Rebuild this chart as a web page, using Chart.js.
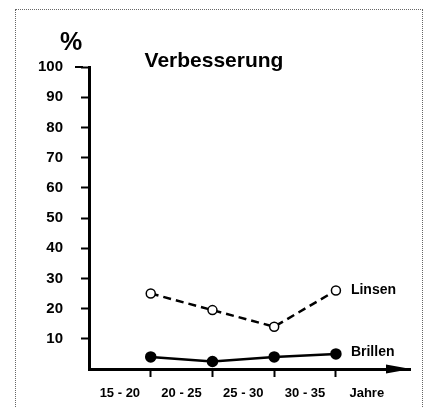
<!DOCTYPE html>
<html>
<head>
<meta charset="utf-8">
<title>Verbesserung</title>
<script src="https://cdn.jsdelivr.net/npm/chart.js@4/dist/chart.umd.min.js"></script>
<style>
  html, body { margin: 0; padding: 0; background: #fff; }
  #wrap { position: relative; width: 426px; height: 408px; overflow: hidden; }
  #rahmen { position: absolute; left: 15px; top: 9px; width: 406px; height: 420px;
            border: 1px dotted #666; pointer-events: none; }
</style>
</head>
<body>
<div id="wrap">
  <canvas id="grafik" width="426" height="408"></canvas>
  <div id="rahmen"></div>
</div>
<script>
// Altersgruppen (Kategorien) und Achsentext
var altersGruppen = ['15 - 20', '20 - 25', '25 - 30', '30 - 35', 'Jahre'];
// Messpunkte liegen auf den Grenzen zwischen den Gruppen (1..4)
var messStellen = [1, 2, 3, 4];
var linsenWerte = [25, 19.5, 14, 26];
var brillenWerte = [4, 2.5, 4, 5];
var yTickWerte = [0, 10, 20, 30, 40, 50, 60, 70, 80, 90, 100];

var schrift = "'Liberation Sans', Arial, sans-serif";

function punkte(werte) {
  return werte.map(function (w, i) { return { x: messStellen[i], y: w }; });
}

// Titel, %-Zeichen, Reihennamen und Pfeil an der x-Achse
var beschriftung = {
  id: 'beschriftung',
  afterDraw: function (chart) {
    var ctx = chart.ctx;
    var xs = chart.scales.x, ys = chart.scales.y;
    var area = chart.chartArea;
    ctx.save();
    ctx.fillStyle = '#000';

    ctx.font = 'bold 21px ' + schrift;
    ctx.textAlign = 'center';
    ctx.textBaseline = 'alphabetic';
    ctx.fillText('Verbesserung', 214, 67);

    ctx.font = 'bold 25px ' + schrift;
    ctx.fillText('%', 71, 50);

    ctx.font = 'bold 14px ' + schrift;
    ctx.textAlign = 'left';
    ctx.textBaseline = 'middle';
    var last = messStellen.length - 1;
    ctx.fillText('Linsen', xs.getPixelForValue(messStellen[last]) + 15, ys.getPixelForValue(linsenWerte[last]));
    ctx.fillText('Brillen', xs.getPixelForValue(messStellen[last]) + 15, ys.getPixelForValue(brillenWerte[last]) - 2);

    // etwas laengerer Strich bei 100
    var y100 = ys.getPixelForValue(100);
    ctx.fillRect(area.left - 14, y100 - 1, 8, 2);

    // Pfeilspitze
    var yb = area.bottom;
    ctx.beginPath();
    ctx.moveTo(area.right - 24, yb - 4.5);
    ctx.lineTo(area.right + 1, yb);
    ctx.lineTo(area.right - 24, yb + 4.5);
    ctx.closePath();
    ctx.fill();
    ctx.restore();
  }
};

var grafik = new Chart(document.getElementById('grafik'), {
  type: 'line',
  data: {
    datasets: [{
      label: 'Linsen',
      data: punkte(linsenWerte),
      borderColor: '#000',
      borderWidth: 2.5,
      borderDash: [8, 5],
      pointRadius: 4.5,
      pointBorderWidth: 1.5,
      pointBackgroundColor: '#fff',
      pointBorderColor: '#000',
      tension: 0
    }, {
      label: 'Brillen',
      data: punkte(brillenWerte),
      borderColor: '#000',
      borderWidth: 2.5,
      pointRadius: 4.5,
      pointBackgroundColor: '#000',
      pointBorderColor: '#000',
      tension: 0
    }]
  },
  options: {
    responsive: false,
    animation: false,
    devicePixelRatio: 1,
    layout: { padding: { top: 67, right: 16, left: 0, bottom: 0 } },
    plugins: {
      legend: { display: false },
      tooltip: { enabled: false },
      title: { display: false }
    },
    scales: {
      x: {
        type: 'linear',
        min: 0,
        max: 5.2,
        afterBuildTicks: function (scale) {
          var t = [];
          altersGruppen.forEach(function (g, i) { t.push({ value: i + 0.5 }); });
          messStellen.forEach(function (m) { t.push({ value: m }); });
          t.sort(function (a, b) { return a.value - b.value; });
          scale.ticks = t;
        },
        afterFit: function (scale) { scale.height = 39; },
        border: { display: true, color: '#000', width: 3 },
        grid: {
          display: true,
          drawOnChartArea: false,
          drawTicks: true,
          tickLength: 8,
          tickWidth: 2,
          tickColor: function (c) {
            return (c.tick && c.tick.value % 1 === 0) ? '#000' : 'rgba(0,0,0,0)';
          }
        },
        ticks: {
          autoSkip: false,
          maxRotation: 0,
          padding: 9,
          color: '#000',
          font: { family: schrift, size: 13, weight: 'bold' },
          callback: function (v) {
            return (v % 1 === 0.5) ? altersGruppen[Math.floor(v)] : '';
          }
        }
      },
      y: {
        min: 0,
        max: 100,
        afterBuildTicks: function (scale) {
          scale.ticks = yTickWerte.map(function (v) { return { value: v }; });
        },
        afterFit: function (scale) { scale.width = 89; },
        border: { display: true, color: '#000', width: 3 },
        grid: {
          display: true,
          drawOnChartArea: false,
          drawTicks: true,
          tickLength: 8,
          tickWidth: 2,
          tickColor: function (c) {
            return (c.tick && c.tick.value === 0) ? 'rgba(0,0,0,0)' : '#000';
          }
        },
        ticks: {
          padding: 18,
          color: '#000',
          font: { family: schrift, size: 15, weight: 'bold' },
          callback: function (v) { return v === 0 ? '' : String(v); }
        }
      }
    }
  },
  plugins: [beschriftung]
});
</script>
</body>
</html>
